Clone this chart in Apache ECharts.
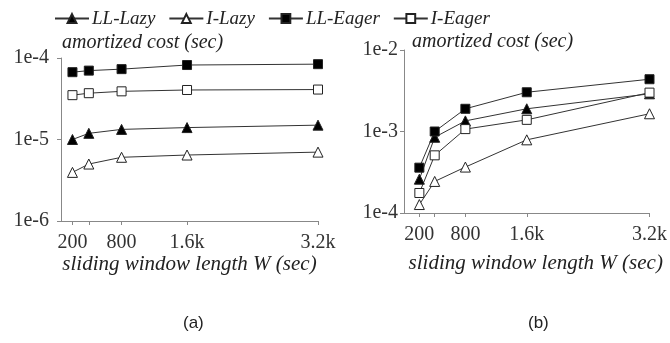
<!DOCTYPE html>
<html>
<head>
<meta charset="utf-8">
<script src="https://cdn.jsdelivr.net/npm/echarts@6/dist/echarts.min.js"></script>
<style>
  html, body { margin: 0; padding: 0; background: #fff; }
  #chart { width: 670px; height: 343px; }
</style>
</head>
<body>
<div id="chart"></div>
<script>
// sliding window length W (sec)
const windowLengths = [200, 400, 800, 1600, 3200];
const tickValues = [200, 400, 800, 1600, 3200];
const labelValues = [200, 800, 1600, 3200];
const seriesNames = ['LL-Lazy', 'I-Lazy', 'LL-Eager', 'I-Eager'];

// (a) amortized cost (sec)
const llLazyA = [1.0e-5, 1.19e-5, 1.33e-5, 1.4e-5, 1.5e-5];
const iLazyA = [3.95e-6, 5.0e-6, 6.05e-6, 6.45e-6, 7.0e-6];
const llEagerA = [6.7e-5, 7.0e-5, 7.3e-5, 8.2e-5, 8.4e-5];
const iEagerA = [3.5e-5, 3.7e-5, 3.9e-5, 4.05e-5, 4.1e-5];

// (b) amortized cost (sec)
const llLazyB = [2.6e-4, 8.5e-4, 1.35e-3, 1.9e-3, 2.9e-3];
const iLazyB = [1.27e-4, 2.44e-4, 3.66e-4, 7.9e-4, 1.65e-3];
const llEagerB = [3.6e-4, 1.0e-3, 1.9e-3, 3.03e-3, 4.38e-3];
const iEagerB = [1.76e-4, 5.1e-4, 1.07e-3, 1.39e-3, 3.0e-3];

const serif = '"Liberation Serif", "DejaVu Serif", serif';
const axisColor = '#888';
const lineColor = '#333';

const symbols = {
    'LL-Lazy': { symbol: 'triangle', size: 10, fill: '#000' },
    'I-Lazy': { symbol: 'triangle', size: 10, fill: '#fff' },
    'LL-Eager': { symbol: 'rect', size: 9, fill: '#000' },
    'I-Eager': { symbol: 'rect', size: 9, fill: '#fff' }
};

function kLabel(v) {
    return v >= 1000 ? (v / 1000) + 'k' : String(v);
}

function makeSeries(name, values, idx) {
    const s = symbols[name];
    return {
        name: name,
        type: 'line',
        xAxisIndex: idx,
        yAxisIndex: idx,
        data: windowLengths.map((w, i) => [w, values[i]]),
        symbol: s.symbol,
        symbolSize: s.size,
        showAllSymbol: true,
        lineStyle: { color: lineColor, width: 1 },
        itemStyle: { color: s.fill, borderColor: '#222', borderWidth: 1 },
        emphasis: { disabled: true },
        animation: false
    };
}

function xAxis(idx, min, nameGap, nameShift) {
    return {
        type: 'value',
        gridIndex: idx,
        min: min,
        max: 3200,
        name: 'sliding window length W (sec)',
        nameLocation: 'middle',
        nameGap: nameGap,
        nameTextStyle: {
            fontFamily: serif, fontStyle: 'italic', fontSize: 21, color: '#222',
            padding: [0, 0, 0, nameShift]
        },
        axisLine: { lineStyle: { color: axisColor, width: 1 } },
        axisTick: { show: true, length: 4, customValues: tickValues, lineStyle: { color: axisColor } },
        axisLabel: {
            customValues: labelValues,
            formatter: kLabel,
            margin: 12,
            fontFamily: serif,
            fontSize: 20,
            color: '#333'
        },
        splitLine: { show: false }
    };
}

function yAxis(idx, min, max, nameGap, namePad, labelMargin) {
    return {
        type: 'log',
        logBase: 10,
        gridIndex: idx,
        min: min,
        max: max,
        name: 'amortized cost (sec)',
        nameLocation: 'end',
        nameGap: nameGap,
        nameTextStyle: {
            fontFamily: serif, fontStyle: 'italic', fontSize: 20, color: '#222',
            align: 'left', padding: [0, 0, 0, namePad]
        },
        axisLine: { show: true, lineStyle: { color: axisColor, width: 1 } },
        axisTick: { show: true, length: 4, lineStyle: { color: axisColor } },
        axisLabel: {
            formatter: v => '1e' + Math.round(Math.log10(v)),
            margin: labelMargin,
            fontFamily: serif,
            fontSize: 20,
            color: '#333'
        },
        splitLine: { show: false },
        minorTick: { show: false }
    };
}

const chart = echarts.init(document.getElementById('chart'));
chart.setOption({
    backgroundColor: '#fff',
    animation: false,
    legend: {
        data: seriesNames,
        left: 49,
        top: 4,
        itemWidth: 34,
        itemHeight: 11,
        itemGap: 13,
        textStyle: { fontFamily: serif, fontStyle: 'italic', fontSize: 19, color: '#222', padding: [0, 0, 0, -2] },
        selectedMode: false
    },
    grid: [
        { left: 61, top: 58, width: 257, height: 163 },
        { left: 404, top: 50, width: 248, height: 163 }
    ],
    xAxis: [xAxis(0, 60, 29, 0), xAxis(1, 0, 40, 18)],
    yAxis: [yAxis(0, 1e-6, 1e-4, 5, 1, 12), yAxis(1, 1e-4, 1e-2, -2, 8, 6)],
    series: [
        makeSeries('LL-Lazy', llLazyA, 0),
        makeSeries('I-Lazy', iLazyA, 0),
        makeSeries('LL-Eager', llEagerA, 0),
        makeSeries('I-Eager', iEagerA, 0),
        makeSeries('LL-Lazy', llLazyB, 1),
        makeSeries('I-Lazy', iLazyB, 1),
        makeSeries('LL-Eager', llEagerB, 1),
        makeSeries('I-Eager', iEagerB, 1)
    ],
    graphic: [
        { type: 'text', left: 183, top: 315, style: { text: '(a)', font: '17px "Liberation Sans", Arial, sans-serif', fill: '#222' } },
        { type: 'text', left: 528, top: 315, style: { text: '(b)', font: '17px "Liberation Sans", Arial, sans-serif', fill: '#222' } }
    ]
});
</script>
</body>
</html>
